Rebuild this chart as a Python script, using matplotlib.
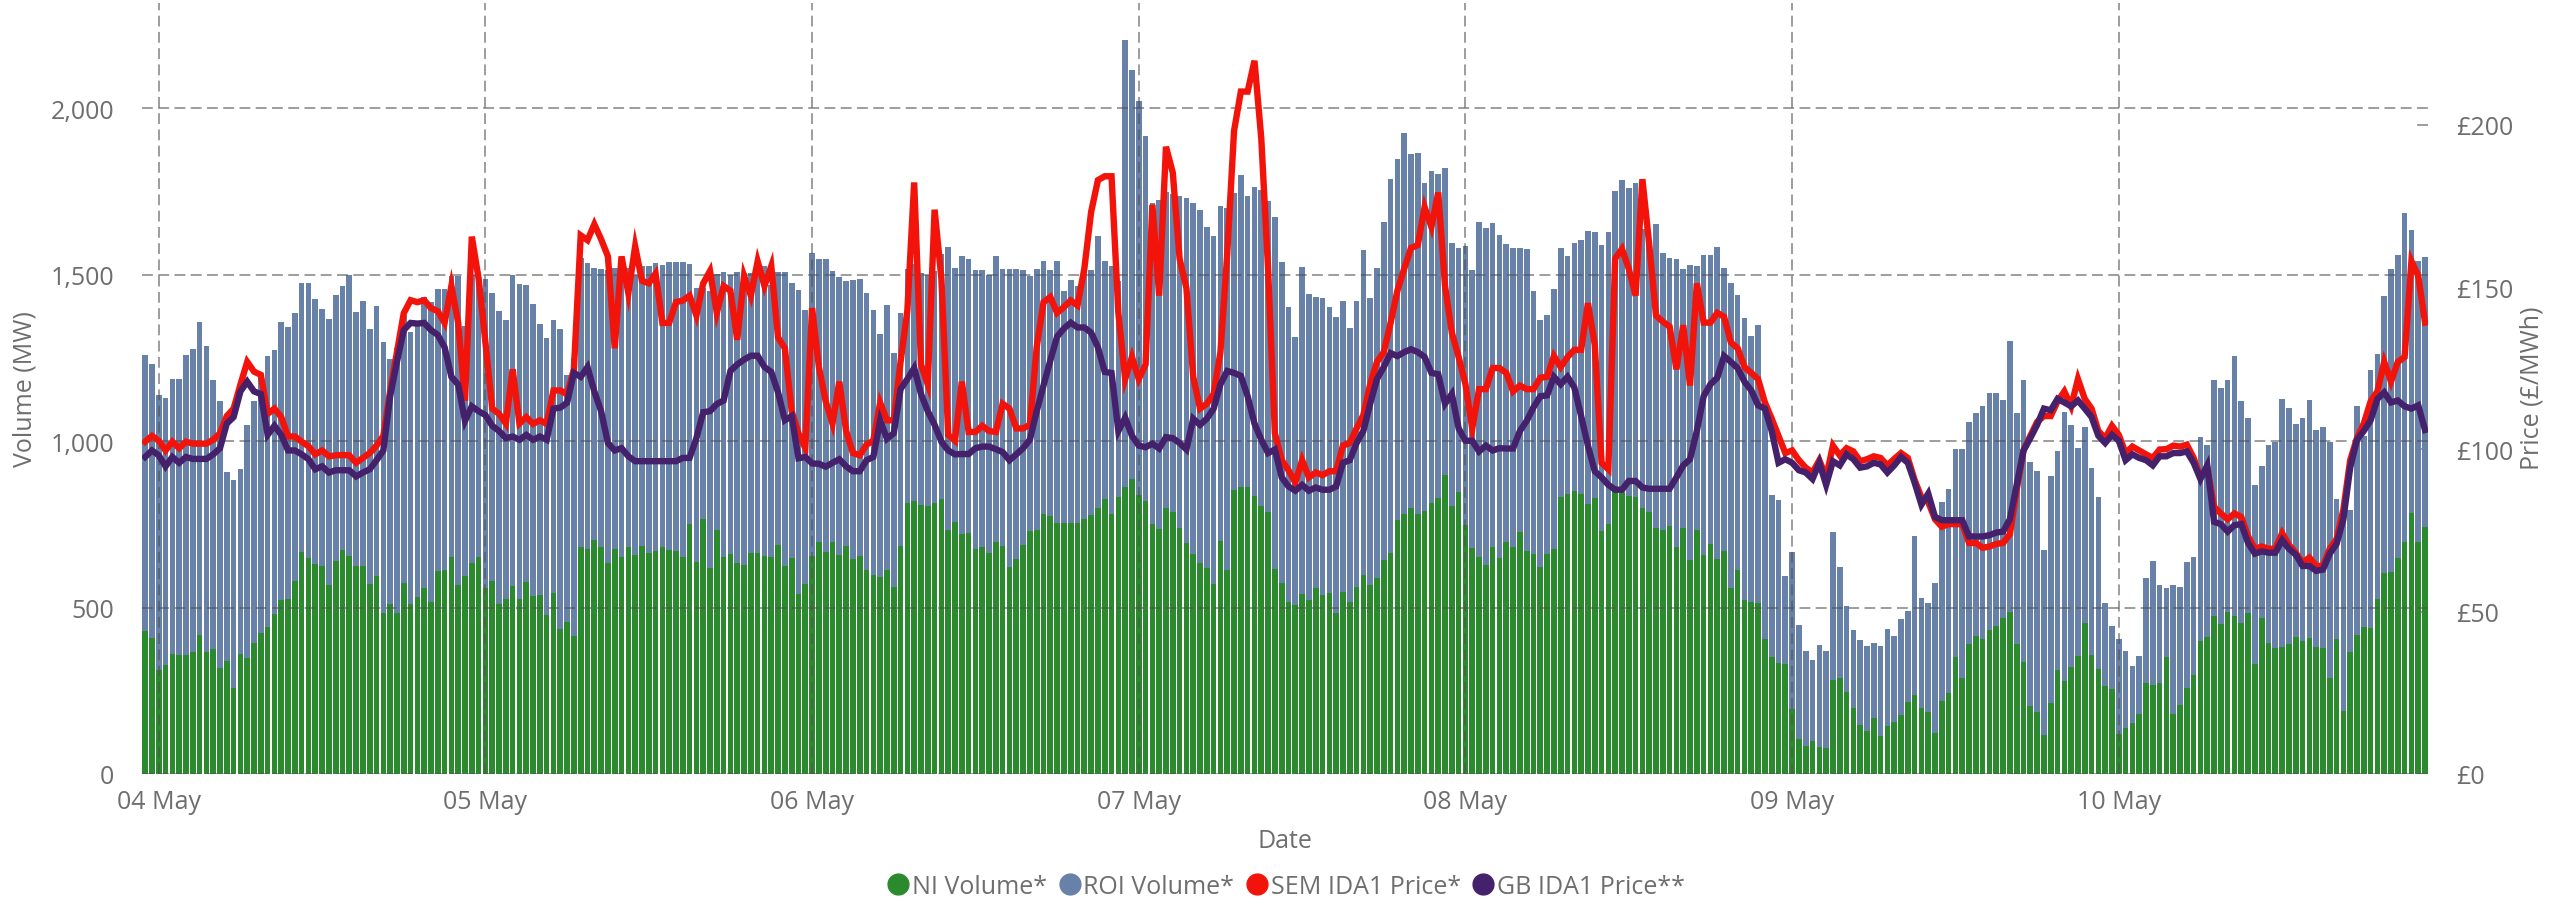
import matplotlib.pyplot as plt
import matplotlib.dates as mdates
import matplotlib.transforms as mtransforms
from matplotlib.lines import Line2D
from matplotlib.ticker import FuncFormatter
import pandas as pd

plt.rcParams['font.family'] = ['Open Sans', 'DejaVu Sans']

# half-hour trading periods (trading day starts 23:00 the evening before)
periods = pd.date_range('2024-05-03 23:00', periods=336, freq='30min')
day_ticks = pd.date_range('2024-05-04', '2024-05-10', freq='D')
vol_ticks = [0, 500, 1000, 1500, 2000]
price_ticks = [0, 50, 100, 150, 200]

# volumes (MW)
ni_volume = [
    429, 409, 311, 327, 361, 356, 356, 365, 418, 365, 376, 318, 339, 259, 359, 347,
    394, 424, 442, 480, 524, 527, 580, 667, 648, 632, 626, 567, 639, 674, 656, 624,
    626, 570, 595, 485, 510, 485, 575, 510, 533, 559, 517, 609, 613, 652, 568, 594,
    633, 651, 558, 580, 512, 527, 564, 527, 576, 535, 538, 479, 545, 435, 457, 415,
    682, 675, 703, 682, 633, 677, 651, 682, 659, 685, 664, 671, 682, 674, 670, 651,
    750, 638, 765, 618, 732, 651, 662, 633, 629, 664, 664, 654, 651, 689, 626, 648,
    541, 571, 656, 697, 668, 697, 657, 685, 647, 654, 613, 598, 592, 613, 563, 685,
    815, 820, 809, 806, 814, 827, 732, 758, 720, 723, 676, 682, 665, 697, 685, 623,
    645, 689, 729, 733, 780, 775, 754, 754, 754, 754, 765, 779, 798, 825, 780, 831,
    861, 886, 839, 821, 752, 736, 799, 787, 739, 694, 661, 635, 618, 570, 700, 614,
    853, 861, 861, 836, 806, 787, 617, 573, 518, 508, 541, 523, 558, 538, 544, 485,
    547, 518, 561, 598, 568, 589, 642, 665, 762, 780, 800, 780, 789, 815, 829, 898,
    806, 848, 747, 679, 653, 627, 682, 648, 697, 682, 726, 671, 662, 621, 662, 677,
    833, 842, 851, 842, 810, 828, 730, 750, 864, 845, 835, 833, 799, 786, 740, 732,
    745, 682, 740, 643, 732, 657, 692, 645, 669, 559, 612, 522, 517, 515, 407, 352,
    333, 330, 195, 105, 83, 100, 80, 77, 282, 289, 247, 198, 148, 130, 167, 115,
    144, 156, 176, 217, 238, 198, 186, 123, 218, 244, 351, 289, 389, 414, 405, 433,
    445, 470, 486, 389, 335, 205, 185, 117, 214, 311, 280, 320, 353, 455, 358, 315,
    265, 255, 121, 139, 152, 179, 274, 267, 273, 351, 179, 208, 258, 297, 401, 411,
    474, 451, 486, 474, 453, 485, 330, 470, 392, 377, 382, 389, 411, 401, 408, 380,
    377, 287, 405, 190, 365, 419, 442, 439, 527, 603, 607, 649, 698, 785, 697, 742,
]
roi_volume = [
    830, 824, 828, 803, 824, 829, 903, 912, 941, 921, 806, 803, 567, 624, 558, 701,
    727, 767, 814, 794, 835, 817, 806, 807, 826, 794, 772, 801, 800, 793, 844, 765,
    795, 768, 812, 812, 738, 795, 805, 817, 817, 873, 900, 848, 844, 845, 927, 753,
    867, 837, 930, 864, 879, 838, 936, 946, 892, 878, 815, 832, 820, 902, 743, 835,
    868, 861, 817, 835, 882, 843, 869, 838, 841, 842, 863, 864, 848, 865, 869, 887,
    783, 821, 694, 833, 771, 856, 838, 874, 875, 840, 859, 873, 819, 818, 881, 826,
    913, 824, 910, 850, 879, 815, 837, 797, 838, 832, 831, 797, 731, 796, 702, 701,
    702, 712, 695, 694, 698, 735, 850, 762, 836, 824, 839, 833, 835, 859, 832, 894,
    872, 825, 768, 784, 761, 739, 787, 697, 729, 713, 747, 736, 817, 716, 747, 651,
    1343, 1230, 1182, 1095, 963, 988, 948, 955, 997, 1036, 1055, 1059, 1026, 1045, 1006, 1087,
    891, 939, 874, 926, 948, 933, 1057, 966, 886, 806, 983, 919, 875, 891, 860, 888,
    874, 823, 860, 975, 861, 931, 1017, 1121, 1086, 1146, 1063, 1085, 985, 995, 974, 922,
    788, 732, 838, 836, 1006, 1014, 974, 970, 894, 897, 853, 905, 789, 743, 718, 780,
    746, 715, 743, 761, 820, 799, 858, 877, 886, 938, 924, 943, 837, 808, 911, 834,
    806, 866, 777, 887, 795, 903, 868, 937, 852, 917, 828, 848, 800, 835, 693, 485,
    489, 265, 473, 342, 287, 242, 308, 293, 445, 334, 257, 235, 255, 255, 227, 270,
    292, 259, 289, 272, 477, 331, 328, 450, 600, 613, 626, 688, 669, 671, 701, 712,
    700, 654, 814, 696, 848, 733, 726, 556, 681, 660, 806, 728, 627, 587, 562, 518,
    249, 190, 285, 231, 172, 176, 314, 372, 295, 207, 388, 354, 378, 354, 611, 578,
    709, 708, 696, 783, 668, 585, 538, 456, 597, 620, 744, 711, 639, 669, 715, 652,
    665, 711, 420, 605, 428, 685, 573, 776, 736, 833, 910, 911, 988, 850, 845, 812,
]

# prices (GBP/MWh)
sem_price = [
    102.4, 104.2, 102.7, 99.7, 102.4, 100.4, 102.4, 101.8, 101.8, 101.8, 103.0, 105.0,
    110.3, 112.6, 120.0, 127.0, 124.0, 123.0, 111.0, 112.6, 110.0, 104.0, 104.0, 102.4,
    101.0, 98.5, 99.7, 97.9, 98.2, 98.3, 98.2, 95.9, 97.4, 98.9, 101.2, 104.2,
    118.0, 130.0, 142.0, 146.0, 145.4, 146.0, 143.6, 142.6, 139.0, 150.4, 139.0, 115.0,
    165.6, 152.7, 133.0, 112.6, 111.0, 108.0, 124.7, 108.0, 110.0, 107.9, 109.0, 107.9,
    118.2, 118.2, 117.0, 124.7, 166.0, 164.5, 169.4, 164.8, 159.5, 131.2, 159.5, 148.2,
    162.6, 152.0, 151.2, 154.2, 139.0, 139.0, 145.4, 145.9, 147.4, 141.3, 151.2, 155.0,
    142.1, 150.4, 148.9, 133.8, 153.5, 147.4, 158.0, 150.4, 156.5, 134.5, 131.2, 111.8,
    105.0, 100.4, 143.6, 125.4, 114.8, 108.0, 120.9, 105.7, 98.9, 98.2, 101.5, 102.7,
    114.4, 109.0, 109.0, 127.0, 142.9, 182.3, 126.2, 120.1, 173.9, 152.7, 104.5, 102.7,
    120.9, 105.4, 105.4, 107.3, 105.7, 105.4, 114.1, 112.6, 106.5, 106.5, 107.6, 131.5,
    145.4, 147.0, 142.1, 143.9, 145.9, 144.4, 155.7, 173.2, 183.0, 184.2, 184.2, 142.1,
    121.7, 128.5, 121.7, 126.2, 175.4, 147.4, 193.3, 185.3, 158.8, 149.7, 122.4, 112.6,
    114.1, 117.1, 130.0, 160.3, 198.2, 210.3, 210.3, 219.8, 195.9, 155.7, 105.0, 96.7,
    93.6, 89.8, 96.7, 91.4, 92.9, 92.1, 93.3, 93.3, 101.2, 102.0, 106.5, 110.6,
    120.1, 127.0, 130.0, 139.0, 148.9, 155.7, 162.1, 163.0, 174.7, 168.6, 179.2, 150.4,
    136.0, 128.5, 120.1, 106.5, 118.6, 118.6, 125.1, 125.1, 123.6, 117.9, 119.7, 118.6,
    118.6, 122.1, 122.4, 128.8, 125.4, 128.5, 130.7, 130.7, 145.1, 132.3, 95.9, 93.9,
    158.8, 161.8, 155.7, 147.4, 183.3, 163.3, 141.3, 139.4, 137.9, 124.7, 138.3, 119.7,
    151.2, 139.1, 139.1, 142.1, 140.9, 133.0, 131.2, 125.4, 123.6, 121.7, 114.5, 109.5,
    104.2, 98.9, 99.7, 96.7, 94.4, 92.9, 96.7, 91.4, 101.2, 98.2, 100.4, 99.4,
    96.4, 97.0, 97.9, 97.4, 95.1, 97.1, 98.9, 97.4, 90.6, 85.3, 83.8, 78.5,
    76.2, 77.0, 77.0, 77.0, 71.2, 71.2, 69.7, 70.1, 70.9, 71.2, 73.9, 87.6,
    99.7, 104.2, 108.5, 110.3, 110.3, 114.8, 117.9, 113.3, 121.7, 115.6, 112.6, 105.7,
    103.5, 107.3, 104.5, 98.9, 100.9, 99.7, 98.5, 97.4, 100.0, 100.1, 101.2, 100.9,
    101.5, 97.4, 91.4, 94.4, 82.3, 80.3, 78.5, 80.3, 79.2, 73.2, 69.4, 70.1,
    69.4, 69.4, 74.2, 70.6, 68.2, 65.1, 66.7, 64.1, 64.1, 69.4, 72.4, 81.5,
    96.7, 103.5, 108.0, 114.8, 117.9, 127.0, 120.9, 127.0, 128.5, 158.0, 153.5, 139.1,
]
gb_price = [
    97.7, 99.7, 98.2, 94.8, 97.7, 95.9, 97.7, 97.1, 97.1, 97.1, 98.5, 100.4,
    108.0, 110.0, 117.9, 120.9, 117.9, 117.1, 104.5, 107.3, 104.5, 99.7, 99.7, 98.5,
    97.0, 93.9, 94.8, 92.9, 93.6, 93.6, 93.6, 91.7, 92.9, 93.9, 96.7, 99.7,
    116.4, 127.0, 136.8, 139.0, 138.8, 139.0, 136.8, 135.3, 131.5, 122.4, 120.0, 108.8,
    113.3, 111.8, 110.6, 107.3, 105.7, 103.5, 104.0, 103.0, 104.5, 103.0, 104.0, 103.0,
    112.6, 112.9, 114.4, 123.6, 122.4, 125.4, 117.9, 111.8, 102.0, 99.7, 100.4, 97.9,
    96.4, 96.4, 96.4, 96.4, 96.4, 96.4, 96.4, 97.4, 97.4, 103.5, 111.5, 111.8,
    114.0, 115.1, 124.2, 126.2, 127.7, 128.9, 128.9, 125.4, 123.9, 117.6, 109.0, 110.3,
    97.3, 97.7, 95.7, 95.6, 94.7, 95.9, 97.0, 94.8, 93.3, 93.3, 96.7, 97.7,
    109.0, 103.3, 105.0, 118.6, 121.7, 125.1, 117.1, 111.8, 107.6, 102.4, 99.7, 98.5,
    98.6, 98.6, 100.4, 100.9, 100.9, 100.1, 99.2, 96.7, 98.5, 100.4, 103.0, 111.8,
    119.7, 127.4, 134.8, 137.3, 139.1, 137.6, 137.6, 136.0, 131.5, 123.9, 123.6, 105.7,
    109.8, 104.2, 101.2, 100.7, 101.8, 100.3, 103.8, 103.5, 102.0, 100.0, 109.5, 107.6,
    109.5, 112.6, 120.1, 124.2, 123.6, 122.7, 116.4, 108.0, 103.0, 98.9, 100.0, 91.4,
    88.6, 87.3, 89.1, 87.3, 88.3, 87.6, 87.6, 88.6, 95.9, 96.7, 102.0, 105.7,
    114.1, 121.7, 125.4, 129.7, 128.8, 130.0, 130.9, 130.0, 128.5, 123.6, 123.2, 114.1,
    117.1, 106.5, 102.7, 102.7, 99.4, 101.2, 99.7, 100.4, 100.3, 100.3, 105.7, 108.8,
    113.0, 116.4, 116.7, 122.4, 120.1, 122.4, 119.1, 110.3, 101.2, 93.3, 91.4, 89.1,
    87.6, 87.6, 90.3, 90.3, 88.3, 87.9, 87.9, 87.9, 87.9, 91.4, 95.1, 97.0,
    105.7, 116.4, 120.1, 122.1, 128.8, 127.0, 125.1, 120.9, 118.2, 113.6, 112.6, 105.7,
    95.9, 97.0, 95.9, 93.6, 92.9, 90.9, 95.9, 89.1, 96.4, 95.1, 98.5, 97.0,
    94.4, 94.8, 95.9, 95.4, 92.9, 95.1, 97.7, 95.9, 89.8, 83.0, 86.4, 79.2,
    78.2, 78.2, 78.2, 78.2, 73.2, 73.2, 73.2, 73.6, 74.4, 74.7, 78.5, 89.1,
    99.7, 103.5, 107.6, 112.6, 112.1, 115.6, 114.5, 113.3, 115.1, 112.6, 110.0, 104.2,
    102.0, 104.5, 102.7, 96.7, 98.5, 97.4, 96.7, 95.1, 97.9, 97.9, 98.9, 98.9,
    99.4, 95.9, 90.9, 95.1, 77.7, 77.0, 74.7, 76.7, 77.0, 71.2, 67.9, 68.6,
    68.2, 68.2, 72.1, 69.4, 67.6, 64.1, 64.1, 62.6, 63.0, 67.9, 70.9, 78.5,
    94.4, 103.0, 105.7, 109.0, 115.6, 117.6, 114.5, 115.1, 113.3, 112.6, 113.6, 106.0,
]

ni_color = '#2b8a2e'
roi_color = '#6781a8'
sem_color = '#f2140a'
gb_color = '#45216c'
text_color = '#6e6e6e'
grid_color = '#505050'
fs = 18

vol_max = 2316
price_max = 237.6

fig = plt.figure(figsize=(25.63, 9.04), dpi=100)
ax1 = fig.add_axes([0.0553, 0.1427, 0.8922, 0.8529])

bar_w = 0.83 / 48  # in days
ax1.bar(periods, ni_volume, width=bar_w, color=ni_color, zorder=1)
ax1.bar(periods, roi_volume, bottom=ni_volume, width=bar_w, color=roi_color, zorder=1)

ax1.set_xlim(periods[0] - pd.Timedelta(minutes=15), periods[-1] + pd.Timedelta(minutes=15))
ax1.set_ylim(0, vol_max)
ax1.set_yticks(vol_ticks)
ax1.yaxis.set_major_formatter(FuncFormatter(lambda v, p: f'{v:,.0f}'))
ax1.set_xticks(day_ticks)
ax1.xaxis.set_major_formatter(mdates.DateFormatter('%d %b'))

ax1.set_axisbelow(False)
ax1.grid(True, color=grid_color, alpha=0.6, linewidth=1.3, linestyle=(0, (6, 3)))
ax1.tick_params(axis='both', length=0, labelsize=fs, labelcolor=text_color)
ax1.tick_params(axis='y', pad=20)
ax1.tick_params(axis='x', pad=11)
for s in ax1.spines.values():
    s.set_visible(False)

ax2 = ax1.twinx()
ax2.plot(periods, sem_price, color=sem_color, linewidth=4.6, solid_joinstyle='miter', zorder=3)
ax2.plot(periods, gb_price, color=gb_color, linewidth=4.6, solid_joinstyle='miter', zorder=4)
ax2.set_ylim(0, price_max)
ax2.set_yticks(price_ticks)
ax2.yaxis.set_major_formatter(FuncFormatter(lambda v, p: f'£{v:.0f}'))
ax2.tick_params(axis='y', length=0, pad=20, labelsize=fs, labelcolor=text_color)
for s in ax2.spines.values():
    s.set_visible(False)

# short inner tick marks of the price axis (sit under the bars)
trans = mtransforms.blended_transform_factory(ax1.transAxes, ax2.transData)
for p in price_ticks:
    ax1.add_line(Line2D([0.9955, 1.0], [p, p], transform=trans, color=grid_color,
                        alpha=0.6, linewidth=1.3, zorder=0.5))

ax1.set_xlabel('Date', fontsize=fs, color=text_color, labelpad=10)
fig.text(0.0098, 0.57, 'Volume (MW)', rotation=90, ha='center', va='center',
         fontsize=fs, color=text_color)
fig.text(0.988, 0.57, 'Price (£/MWh)', rotation=90, ha='center', va='center',
         fontsize=fs, color=text_color)

handles = [
    Line2D([], [], marker='o', linestyle='none', markersize=15, color=ni_color, label='NI Volume*'),
    Line2D([], [], marker='o', linestyle='none', markersize=15, color=roi_color, label='ROI Volume*'),
    Line2D([], [], marker='o', linestyle='none', markersize=15, color=sem_color, label='SEM IDA1 Price*'),
    Line2D([], [], marker='o', linestyle='none', markersize=15, color=gb_color, label='GB IDA1 Price**'),
]
leg = fig.legend(handles=handles, loc='center', bbox_to_anchor=(0.502, 0.018), ncol=4,
                 frameon=False, fontsize=fs, handlelength=0.8, handletextpad=0.15,
                 columnspacing=0.5, borderpad=0)
for t in leg.get_texts():
    t.set_color(text_color)

fig.savefig('out.png', dpi=100)
